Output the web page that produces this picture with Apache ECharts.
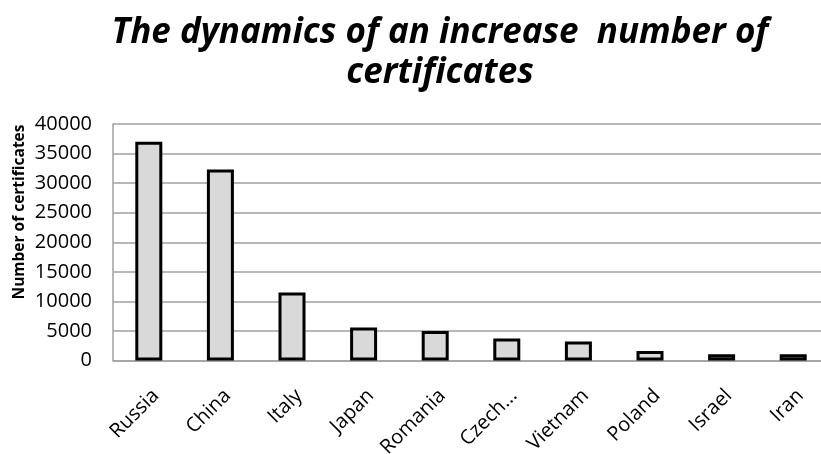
<!DOCTYPE html>
<html>
<head>
<meta charset="utf-8">
<script src="https://cdn.jsdelivr.net/npm/echarts@6/dist/echarts.min.js"></script>
<style>
  html, body { margin: 0; padding: 0; background: #fff; }
  #chart { width: 821px; height: 454px; }
</style>
</head>
<body>
<div id="chart"></div>
<script>
// Certificates issued per country
const countries = ['Russia', 'China', 'Italy', 'Japan', 'Romania', 'Czech...', 'Vietnam', 'Poland', 'Israel', 'Iran'];
const certificates = [37000, 32300, 11500, 5600, 5000, 3700, 3200, 1600, 1050, 1050];
const yTicks = { min: 0, max: 40000, interval: 5000 };

const FONT = '"Open Sans", "Noto Sans", sans-serif';

const chart = echarts.init(document.getElementById('chart'), null, { renderer: 'canvas' });
chart.setOption({
  animation: false,
  backgroundColor: '#ffffff',
  title: {
    text: 'The dynamics of an increase  number of\ncertificates',
    left: 435,
    textAlign: 'center',
    top: 8,
    textStyle: {
      fontFamily: FONT,
      fontSize: 35,
      fontWeight: 'bold',
      fontStyle: 'italic',
      color: '#000',
      lineHeight: 40
    }
  },
  graphic: [{
    type: 'text',
    x: 20,
    y: 212,
    rotation: Math.PI / 2,
    style: {
      text: 'Number of certificates',
      font: 'bold 15.5px ' + FONT,
      fill: '#000',
      textAlign: 'center',
      textVerticalAlign: 'middle'
    }
  }],
  // fixed plot area; it runs slightly past the right edge of the canvas
  grid: { left: 113, width: 716, top: 124, bottom: 93.5, containLabel: false, outerBoundsMode: 'none' },
  xAxis: {
    type: 'category',
    data: countries,
    axisLine: { show: true, lineStyle: { color: '#a0a0a0', width: 1.5 } },
    axisTick: { show: false },
    axisLabel: {
      rotate: 45,
      interval: 0,
      margin: 25,
      verticalAlign: 'top',
      lineHeight: 20,
      fontFamily: FONT,
      fontSize: 20,
      color: '#000'
    }
  },
  yAxis: {
    type: 'value',
    min: yTicks.min,
    max: yTicks.max,
    interval: yTicks.interval,
    axisLine: { show: true, lineStyle: { color: '#a0a0a0', width: 1.5 } },
    axisTick: { show: false },
    axisLabel: {
      margin: 21,
      fontFamily: FONT,
      fontSize: 20,
      color: '#000',
      formatter: v => String(v)
    },
    splitLine: { show: true, lineStyle: { color: '#a0a0a0', width: 1.5 } }
  },
  series: [{
    type: 'bar',
    data: certificates,
    barWidth: 27,
    itemStyle: {
      color: '#d9d9d9',
      borderColor: '#000',
      borderWidth: 3
    }
  }]
});
</script>
</body>
</html>
